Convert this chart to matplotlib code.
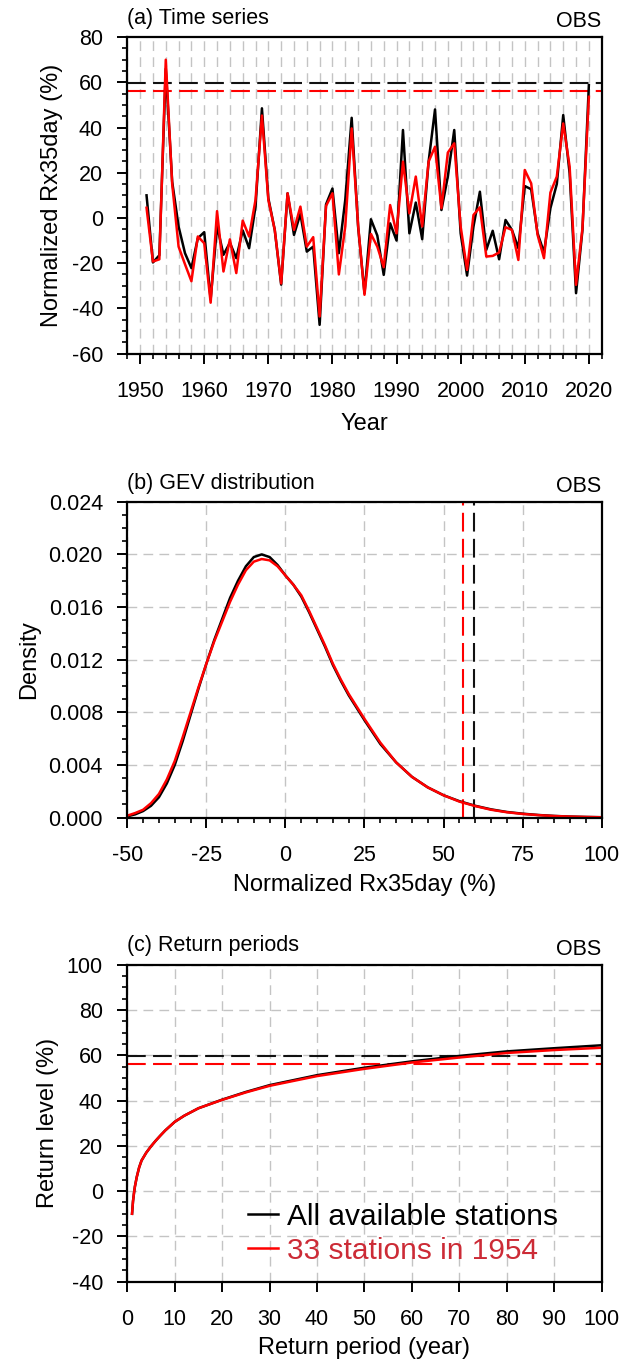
import numpy as np
import matplotlib
matplotlib.use('Agg')
import matplotlib.pyplot as plt
from matplotlib.ticker import MultipleLocator, FormatStrFormatter

plt.rcParams['font.family'] = ['Liberation Sans', 'DejaVu Sans']
plt.rcParams['axes.unicode_minus'] = False

# (a) time series of normalized Rx35day (%)
years = list(range(1951, 2021))
rx_all = [10, -19.7, -16.5, 66, 16, -3.8, -15.6, -22.2, -9, -6.3,
          -36, -3.5, -16.3, -11, -17.8, -5.5, -13.4, 5, 48.5, 8.7,
          -5.3, -29.5, 10.9, -7.5, 1.8, -14.9, -12.7, -47.3, 6, 13,
          -15.6, 8, 44.3, -3.8, -33.3, -0.6, -7.8, -25.2, -2.4, -10,
          38.9, -6.8, 6.8, -9.4, 24.9, 48, 3.5, 18.3, 38.9, -6.8,
          -25.5, -3.8, 11.6, -14.1, -5.7, -18.3, -0.9, -5.3, -13.4, 14.1,
          12.7, -6.8, -15.3, 4.3, 15, 45.5, 19.7, -33.3, -5.3, 58.8]
rx_33 = [4.5, -19.3, -18.3, 70, 15, -12.7, -20.5, -28, -8.2, -11.2,
         -37.5, 3, -23.7, -9.5, -24.4, -1.2, -8.2, 8, 45.3, 8,
         -5.3, -29, 10.9, -5.3, 5, -12.7, -8.5, -43.6, 5.3, 10.9,
         -25, -3.8, 39.6, -3.1, -34, -7.1, -12.7, -21.8, 5.7, -6.8,
         24.9, 2, 18.3, -3.8, 24.9, 31.5, 4.3, 28.9, 33, -3.8,
         -23, 1.3, 4.7, -17.1, -16.8, -15.3, -4.1, -5.3, -18.6, 21.2,
         15.3, -7.5, -17.8, 11.2, 18.3, 41.8, 22.7, -29.6, -4.6, 53.6]
level_1954_all = 59.5
level_1954_33 = 56.3

# (b) GEV density
pdf_x = [-50, -47.5, -45, -42.5, -40, -37.5, -35, -32.5, -30, -27.5, -25,
         -22.5, -20, -17.5, -15, -12.5, -10, -7.5, -5, -2.5, 0, 2.5, 5,
         7.5, 10, 12.5, 15, 17.5, 20, 25, 30, 35, 40, 45, 50, 55, 60, 65,
         70, 75, 80, 85, 90, 95, 100]
pdf_all = [0.0001, 0.00025, 0.0005, 0.0009, 0.00155, 0.0026, 0.0040,
           0.0058, 0.0078, 0.0098, 0.0117, 0.0135, 0.0151, 0.0167, 0.0180,
           0.0191, 0.0198, 0.0200, 0.0198, 0.0192, 0.0184, 0.0177, 0.0168,
           0.0156, 0.0143, 0.0130, 0.0116, 0.0104, 0.0093, 0.0074, 0.0056,
           0.0042, 0.0031, 0.0023, 0.0017, 0.00125, 0.0009, 0.00063,
           0.00043, 0.0003, 0.0002, 0.00013, 0.00008, 0.00005, 0.00003]
pdf_33 = [0.00015, 0.00035, 0.0006, 0.0011, 0.0018, 0.0029, 0.0043,
          0.0061, 0.0080, 0.0099, 0.0117, 0.0134, 0.0149, 0.0164, 0.0177,
          0.0188, 0.01945, 0.01965, 0.01955, 0.0191, 0.0184, 0.0177, 0.0169,
          0.0157, 0.0144, 0.0131, 0.0117, 0.0105, 0.0094, 0.0075, 0.0057,
          0.0042, 0.0031, 0.0023, 0.0017, 0.00122, 0.00088, 0.0006,
          0.00041, 0.00028, 0.00019, 0.00012, 0.00008, 0.00005, 0.00003]

# (c) return levels
periods = [1, 1.2, 1.4, 1.6, 2, 2.5, 3, 4, 5, 6, 7, 8, 10, 12, 15, 20, 25,
           30, 40, 50, 60, 70, 80, 90, 100]
rl_all = [-10, -4.5, -1, 2, 6.3, 10.5, 13.5, 17, 19.8, 22.3, 24.6, 26.8,
          30.6, 33.3, 36.6, 40.4, 43.8, 46.8, 51.2, 54.5, 57.3, 59.7, 61.7,
          63.1, 64.4]
rl_33 = [-10, -4.5, -1, 2, 6.3, 10.5, 13.5, 17, 19.8, 22.3, 24.6, 26.8,
         30.6, 33.3, 36.6, 40.3, 43.6, 46.5, 50.8, 54.0, 56.8, 59.0, 61.0,
         62.3, 63.3]

labels = ['All available stations', '33 stations in 1954']

GRID = dict(color='#c4c4c4', lw=1.0, ls=(0, (7, 4.5)))
DASH = (0, (9, 3.5))
TICK_FS = 15.5
LAB_FS = 17
LW = 1.8


def style_axes(ax, panel):
    for s in ax.spines.values():
        s.set_linewidth(1.6)
    ax.tick_params(which='major', direction='out', length=7.5, width=1.4,
                   labelsize=TICK_FS, pad=10)
    ax.tick_params(axis='x', which='major', pad=12)
    ax.tick_params(which='minor', direction='out', length=3.5, width=1.2)
    ax.tick_params(top=False, right=False, which='both')
    ax.text(0.0, 1.042, panel, transform=ax.transAxes, fontsize=15.5,
            ha='left', va='baseline')
    ax.text(1.0, 1.031, 'OBS', transform=ax.transAxes, fontsize=15.5,
            ha='right', va='baseline')


fig = plt.figure(figsize=(6.21, 13.65), dpi=100)
L, W = 0.2050, 0.7639
ax1 = fig.add_axes([L, 0.7410, W, 0.2318])
ax2 = fig.add_axes([L, 0.4010, W, 0.2314])
ax3 = fig.add_axes([L, 0.0610, W, 0.2323])

# (a)
ax1.set_xlim(1948, 2022)
ax1.set_ylim(-60, 80)
ax1.xaxis.set_major_locator(MultipleLocator(10))
ax1.xaxis.set_minor_locator(MultipleLocator(2))
ax1.yaxis.set_major_locator(MultipleLocator(20))
ax1.yaxis.set_minor_locator(MultipleLocator(5))
ax1.grid(axis='x', which='both', **GRID)
ax1.axhline(level_1954_all, color='#111111', lw=1.5, ls=DASH)
ax1.axhline(level_1954_33, color='red', lw=1.5, ls=DASH)
ax1.plot(years, rx_all, color='black', lw=LW)
ax1.plot(years, rx_33, color='red', lw=LW)
ax1.set_xlabel('Year', fontsize=LAB_FS, labelpad=8)
ax1.set_ylabel('Normalized Rx35day (%)', fontsize=LAB_FS, labelpad=6)
style_axes(ax1, '(a) Time series')

# (b)
ax2.set_xlim(-50, 100)
ax2.set_ylim(0, 0.024)
ax2.xaxis.set_major_locator(MultipleLocator(25))
ax2.xaxis.set_minor_locator(MultipleLocator(5))
ax2.yaxis.set_major_locator(MultipleLocator(0.004))
ax2.yaxis.set_minor_locator(MultipleLocator(0.001))
ax2.yaxis.set_major_formatter(FormatStrFormatter('%.3f'))
ax2.grid(which='major', **GRID)
ax2.axvline(level_1954_all, color='#111111', lw=1.5, ls=DASH)
ax2.axvline(level_1954_33, color='red', lw=1.5, ls=DASH)
ax2.plot(pdf_x, pdf_all, color='black', lw=LW)
ax2.plot(pdf_x, pdf_33, color='red', lw=LW)
ax2.set_xlabel('Normalized Rx35day (%)', fontsize=LAB_FS, labelpad=6)
ax2.set_ylabel('Density', fontsize=LAB_FS, labelpad=6)
style_axes(ax2, '(b) GEV distribution')

# (c)
ax3.set_xlim(0, 100)
ax3.set_ylim(-40, 100)
ax3.xaxis.set_major_locator(MultipleLocator(10))
ax3.yaxis.set_major_locator(MultipleLocator(20))
ax3.yaxis.set_minor_locator(MultipleLocator(5))
ax3.grid(which='major', **GRID)
ax3.axhline(level_1954_all, color='#111111', lw=1.5, ls=DASH)
ax3.axhline(level_1954_33, color='red', lw=1.5, ls=DASH)
ax3.plot(periods, rl_all, color='black', lw=LW, label=labels[0])
ax3.plot(periods, rl_33, color='red', lw=LW, label=labels[1])
ax3.set_xlabel('Return period (year)', fontsize=LAB_FS, labelpad=5)
ax3.set_ylabel('Return level (%)', fontsize=LAB_FS, labelpad=6)
style_axes(ax3, '(c) Return periods')
leg = ax3.legend(loc='center left', bbox_to_anchor=(0.255, 0.152),
                 frameon=False, fontsize=21.5, handlelength=1.0,
                 handletextpad=0.3, labelspacing=0.2, borderpad=0,
                 borderaxespad=0)
leg.get_texts()[1].set_color('#cc2b36')

fig.savefig('out.png', dpi=100)
